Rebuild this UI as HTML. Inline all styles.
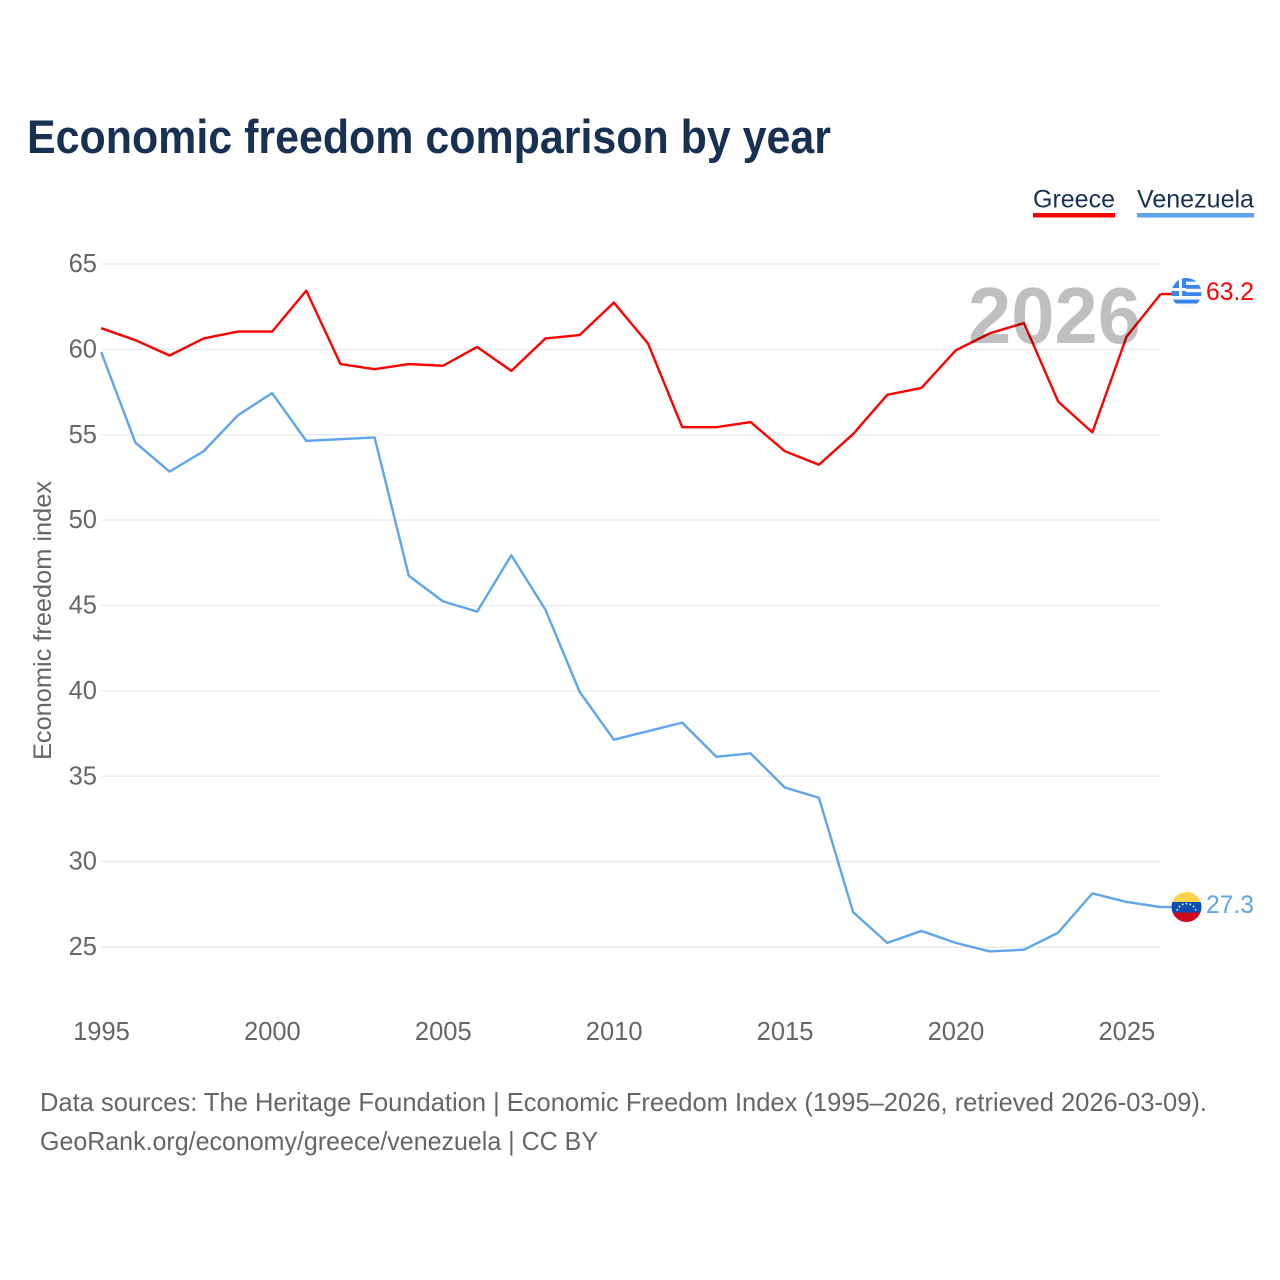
<!DOCTYPE html>
<html lang="en">
<head>
<meta charset="utf-8">
<title>Economic freedom comparison by year</title>
<style>
html,body{margin:0;padding:0;background:#fff;width:1280px;height:1280px;overflow:hidden}
svg{display:block}
text{font-family:"Liberation Sans",Arial,sans-serif}
</style>
</head>
<body>
<svg id="chart" xmlns="http://www.w3.org/2000/svg" width="1280" height="1280" viewBox="0 0 1280 1280">
  <defs>
    <clipPath id="clip-gr"><circle cx="1186.5" cy="293" r="15"/></clipPath>
    <clipPath id="clip-ve"><circle cx="1186.5" cy="907" r="15"/></clipPath>
  </defs>
  <rect x="0" y="0" width="1280" height="1280" fill="#fff"/>
  <text x="27" y="153" font-size="47" font-weight="700" fill="#183153" textLength="804" lengthAdjust="spacingAndGlyphs">Economic freedom comparison by year</text>

  <g>
    <g>
      <text x="1033" y="207.5" font-size="25" fill="#183153" textLength="82" lengthAdjust="spacingAndGlyphs">Greece</text>
      <rect x="1033" y="213" width="82" height="4.5" fill="#ff0000"/>
    </g>
    <g>
      <text x="1137" y="207.5" font-size="25" fill="#183153" textLength="117" lengthAdjust="spacingAndGlyphs">Venezuela</text>
      <rect x="1137" y="213" width="117" height="4.5" fill="#5ea5ec"/>
    </g>
  </g>

  <g id="grid"></g>
  <g id="yticks"></g>
  <g id="xticks"></g>
  <text transform="translate(51,620.5) rotate(-90)" text-anchor="middle" font-size="25" fill="#666" textLength="279" lengthAdjust="spacingAndGlyphs">Economic freedom index</text>

  <g id="series" transform="translate(-0.3,-0.7)"></g>

  <text id="year-label" x="968" y="343" font-size="80" font-weight="700" fill="#000" fill-opacity="0.25" textLength="173" lengthAdjust="spacingAndGlyphs">2026</text>

  <g id="flag-greece" clip-path="url(#clip-gr)">
    <rect x="1171" y="277" width="31" height="32" fill="#f4f7fb"/>
    <rect x="1171" y="277" width="31" height="4.6" fill="#3a86e6"/>
    <rect x="1171" y="285" width="31" height="3.8" fill="#3a86e6"/>
    <rect x="1171" y="292.2" width="31" height="3.8" fill="#3a86e6"/>
    <rect x="1171" y="299.6" width="31" height="3.9" fill="#3a86e6"/>
    <rect x="1171" y="277" width="15" height="19" fill="#3a86e6"/>
    <rect x="1179" y="277" width="3" height="19" fill="#fff"/>
    <rect x="1171" y="288" width="15" height="3" fill="#fff"/>
  </g>
  <g id="flag-venezuela" clip-path="url(#clip-ve)">
    <rect x="1171" y="892" width="31" height="10.5" fill="#fcd34d"/>
    <rect x="1171" y="902" width="31" height="11" fill="#0b50b0"/>
    <rect x="1171" y="912.5" width="31" height="10" fill="#cf0a1f"/>
    <path d="M1177 910.5 A10 10 0 0 1 1196 910.5" fill="none" stroke="#fff" stroke-width="1.5" stroke-dasharray="1.5 2.4"/>
  </g>

  <text id="value-greece" x="1206" y="300" font-size="25" fill="#ff0000" textLength="48" lengthAdjust="spacingAndGlyphs">63.2</text>
  <text id="value-venezuela" x="1206" y="913" font-size="25" fill="#5ea5ec" textLength="48" lengthAdjust="spacingAndGlyphs">27.3</text>

  <g>
    <text x="40" y="1111" font-size="26" fill="#666" textLength="1167" lengthAdjust="spacingAndGlyphs">Data sources: The Heritage Foundation | Economic Freedom Index (1995–2026, retrieved 2026-03-09).</text>
    <text x="40" y="1150" font-size="26" fill="#666" textLength="558" lengthAdjust="spacingAndGlyphs">GeoRank.org/economy/greece/venezuela | CC BY</text>
  </g>
</svg>
<script>
const years = [1995,1996,1997,1998,1999,2000,2001,2002,2003,2004,2005,2006,2007,2008,2009,2010,2011,2012,2013,2014,2015,2016,2017,2018,2019,2020,2021,2022,2023,2024,2025,2026];
const greeceValues = [61.2,60.5,59.6,60.6,61.0,61.0,63.4,59.1,58.8,59.1,59.0,60.1,58.7,60.6,60.8,62.7,60.3,55.4,55.4,55.7,54.0,53.2,55.0,57.3,57.7,59.9,60.9,61.5,56.9,55.1,60.7,63.2];
const venezuelaValues = [59.8,54.5,52.8,54.0,56.1,57.4,54.6,54.7,54.8,46.7,45.2,44.6,47.9,44.7,39.9,37.1,37.6,38.1,36.1,36.3,34.3,33.7,27.0,25.2,25.9,25.2,24.7,24.8,25.8,28.1,27.6,27.3];
const yTickValues = [25,30,35,40,45,50,55,60,65];
const xTickValues = [1995,2000,2005,2010,2015,2020,2025];

const NS = 'http://www.w3.org/2000/svg';
const xLeft = 101.5, xRight = 1161, yearMin = 1995, yearMax = 2026;
const yAt65 = 264, yAt25 = 947;
function xScale(year){ return xLeft + (year - yearMin) * (xRight - xLeft) / (yearMax - yearMin); }
function yScale(value){ return yAt25 - (value - 25) * (yAt25 - yAt65) / 40; }
function make(tag, attrs){
  const el = document.createElementNS(NS, tag);
  for (const k in attrs) el.setAttribute(k, attrs[k]);
  return el;
}

const grid = document.getElementById('grid');
const yticks = document.getElementById('yticks');
yTickValues.forEach(function(v){
  const line = make('line', {x1:xLeft, x2:xRight, y1:yScale(v), y2:yScale(v), stroke:'#ececec', 'stroke-width':1.6});
  
  
  grid.appendChild(line);
  const t = make('text', {x:97, y:yScale(v)+8, 'text-anchor':'end', 'font-size':25.5, fill:'#666'});
  
  
  t.textContent = v;
  yticks.appendChild(t);
});

const xticks = document.getElementById('xticks');
xTickValues.forEach(function(y){
  const t = make('text', {x:xScale(y), y:1040, 'text-anchor':'middle', 'font-size':25.5, fill:'#666'});
  
  
  t.textContent = y;
  xticks.appendChild(t);
});

function pointsFor(values){
  return values.map(function(v, i){ return xScale(years[i]).toFixed(2) + ',' + yScale(v).toFixed(2); }).join(' ');
}
const series = document.getElementById('series');

const greeceLine = make('polyline', {points:pointsFor(greeceValues), fill:'none', stroke:'#ff0000', 'stroke-width':2.4, 'stroke-linejoin':'round'});


series.appendChild(greeceLine);

const venezuelaLine = make('polyline', {points:pointsFor(venezuelaValues), fill:'none', stroke:'#5ea5ec', 'stroke-width':2.4, 'stroke-linejoin':'round'});


series.appendChild(venezuelaLine);

const greeceEnd = make('line', {x1:xRight, x2:1172, y1:yScale(greeceValues[31]), y2:yScale(greeceValues[31]), stroke:'#ff0000', 'stroke-width':2.4});


series.appendChild(greeceEnd);

const venezuelaEnd = make('line', {x1:xRight, x2:1172, y1:yScale(venezuelaValues[31]), y2:yScale(venezuelaValues[31]), stroke:'#5ea5ec', 'stroke-width':2.4});


series.appendChild(venezuelaEnd);

document.getElementById('value-greece').textContent = greeceValues[31].toFixed(1);
document.getElementById('value-venezuela').textContent = venezuelaValues[31].toFixed(1);
</script>
</body>
</html>
